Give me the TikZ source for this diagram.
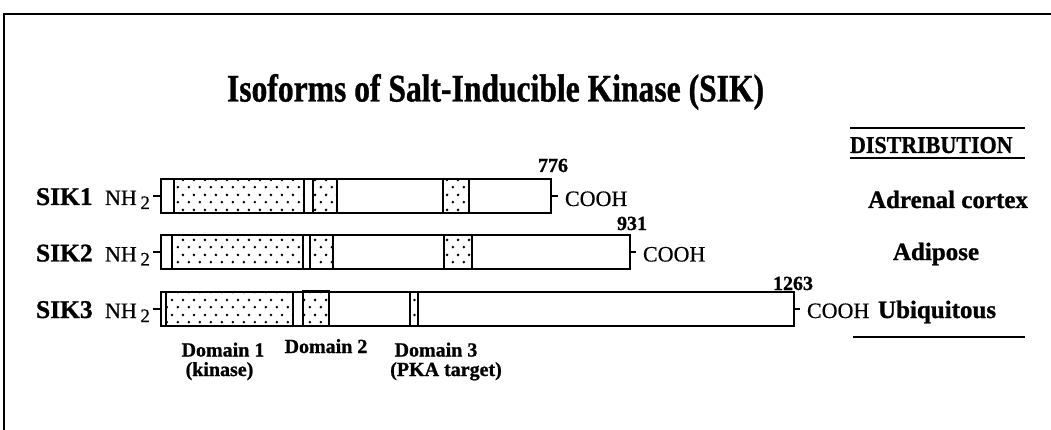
\documentclass[tikz,border=0pt]{standalone}
\usepackage{fontspec}
\setmainfont{Liberation Serif}[UprightFeatures={FakeBold=0.5}, BoldFeatures={FakeBold=1}]
\usetikzlibrary{patterns}
\pgfdeclarepatternformonly{sikdots}{\pgfqpoint{0pt}{0pt}}{\pgfqpoint{11pt}{15pt}}{\pgfqpoint{11pt}{15pt}}{%
  \pgfpathcircle{\pgfqpoint{2pt}{3pt}}{1.5pt}%
  \pgfpathcircle{\pgfqpoint{7.5pt}{10.5pt}}{1.5pt}%
  \pgfusepath{fill}}
\tikzset{
  txt/.style={inner sep=0pt, outer sep=0pt},
  sik/.style={txt, anchor=base west, font=\fontsize{25.5}{25.5}\selectfont\bfseries},
  nh/.style={txt, anchor=base west, font=\fontsize{22}{22}\selectfont},
  cooh/.style={txt, anchor=base west, font=\fontsize{22}{22}\selectfont},
  num/.style={txt, anchor=base, font=\fontsize{20}{20}\selectfont\bfseries},
  dist/.style={txt, font=\fontsize{25}{25}\selectfont\bfseries},
  dom/.style={txt, anchor=base, font=\fontsize{20}{20}\selectfont\bfseries},
  bar/.style={draw, line width=2pt, fill=white, inner sep=0pt, outer sep=0pt, minimum height=34pt, anchor=west},
  domainbox/.style={draw, line width=2.6pt, pattern=sikdots},
  tickline/.style={line width=1.8pt},
  rule/.style={line width=2.2pt},
}
\begin{document}
\begin{tikzpicture}[x=1pt, y=-1pt]
\useasboundingbox (0,0) rectangle (1051,430);
% frame
\draw[line width=2.2pt] (1053,14) -- (4,14) -- (4,432);
% title
\node[txt, anchor=base west, font=\fontsize{39}{39}\selectfont\bfseries] (title) at (227,101.5)
  {\scalebox{0.81}[1]{Isoforms of Salt-Inducible Kinase (SIK)}};

% bars
\node[bar, minimum width=389.7pt] (b1) at (161,196) {};
\node[bar, minimum width=469pt] (b2) at (161,252) {};
\node[bar, minimum width=633.3pt] (b3) at (161,309) {};

% domains SIK1
\draw[domainbox] (174,179) rectangle (304,213);
\draw[domainbox] (313,179) rectangle (337,213);
\draw[domainbox] (443,179) rectangle (469,213);
% domains SIK2
\draw[domainbox] (172,235) rectangle (303,269);
\draw[domainbox] (310,235) rectangle (333,269);
\draw[domainbox] (444,235) rectangle (472,269);
% domains SIK3
\draw[domainbox] (166,292) rectangle (293,326);
\draw[domainbox] (303,291) rectangle (329,326);
\draw[domainbox] (410,292) rectangle (418,326);

% row labels
\node[sik] (s1) at (36,205) {SIK1};
\node[sik] (s2) at (36,261.5) {SIK2};
\node[sik] (s3) at (36,318) {SIK3};

\node[nh] (n1) at (105,205) {NH\,{\fontsize{19}{19}\selectfont\raisebox{-4pt}{2}}};
\node[nh] (n2) at (105,261.5) {NH\,{\fontsize{19}{19}\selectfont\raisebox{-4pt}{2}}};
\node[nh] (n3) at (105,318) {NH\,{\fontsize{19}{19}\selectfont\raisebox{-4pt}{2}}};
\draw[tickline] ([xshift=3pt]n1.east |- b1.west) -- (b1.west);
\draw[tickline] ([xshift=3pt]n2.east |- b2.west) -- (b2.west);
\draw[tickline] ([xshift=3pt]n3.east |- b3.west) -- (b3.west);

\node[cooh] (c1) at (565,206) {COOH};
\node[cooh] (c2) at (643,261.5) {COOH};
\node[cooh] (c3) at (807,318) {COOH};
\draw[tickline] (b1.east) -- ([xshift=-7pt]c1.west |- b1.east);
\draw[tickline] (b2.east) -- ([xshift=-7pt]c2.west |- b2.east);
\draw[tickline] (b3.east) -- ([xshift=-7pt]c3.west |- b3.east);

% lengths
\node[num] (l1) at (553,172) {776};
\node[num] (l2) at (632,230) {931};
\node[num] (l3) at (793,290) {1263};

% distribution
\coordinate (dl1) at (850,128);
\coordinate (dr1) at (1025,128);
\coordinate (dl2) at (850,158);
\coordinate (dr2) at (1025,158);
\coordinate (dl3) at (853,337);
\coordinate (dr3) at (1025,337);
\draw[rule] (dl1) -- (dr1);
\draw[rule, line width=2.6pt] (dl2) -- (dr2);
\draw[rule] (dl3) -- (dr3);
\node[txt, anchor=base west, font=\fontsize{22}{22}\selectfont\bfseries] (dh) at (850,153) {\scalebox{1}[1.1]{DISTRIBUTION}};
\node[dist, anchor=base] (t1) at (948,208) {Adrenal cortex};
\node[dist, anchor=base] (t2) at (936,260) {Adipose};
\node[dist, anchor=base west] (t3) at (878,318) {Ubiquitous};

% domain labels
\node[dom] (d1) at (223,356.5) {Domain 1};
\node[dom] (d1b) at (219.5,376) {(kinase)};
\node[dom] (d2) at (326,353) {Domain 2};
\node[dom] (d3) at (436,356.5) {Domain 3};
\node[dom] (d3b) at (446,376) {(PKA target)};
\end{tikzpicture}
\end{document}
